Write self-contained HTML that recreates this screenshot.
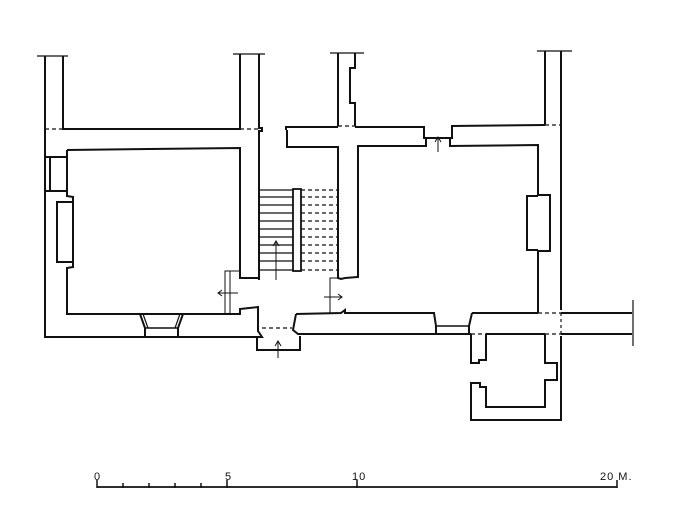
<!DOCTYPE html>
<html><head><style>
html,body{margin:0;padding:0;background:#fff;}
svg{display:block}
text{font-family:"Liberation Sans",sans-serif;font-size:11px;fill:#111;letter-spacing:1px}
</style></head><body>
<svg width="683" height="512" viewBox="0 0 683 512" xmlns="http://www.w3.org/2000/svg">
<g fill="none" stroke="#111" stroke-width="2" stroke-linejoin="miter">
<!-- left building -->
<line x1="37" y1="56" x2="68" y2="56" stroke-width="1.2"/>
<line x1="233" y1="54" x2="265" y2="54" stroke-width="1.2"/>
<polyline points="63,56 63,129 240,129 240,54"/>
<polyline points="259,54 259,128 262,128 262,131 259,131 259,280"/>
<line x1="45" y1="129" x2="63" y2="129" stroke-dasharray="4,3" stroke-width="1.2"/>
<line x1="240" y1="129" x2="259" y2="129" stroke-dasharray="4,3" stroke-width="1.2"/>
<polyline points="45,56 45,337 145,337"/>
<polyline points="145,337 178,337"/>
<polyline points="178,337 262,337 258,331 258,307 240,309 240,314 183,314"/>
<polyline points="67,150 240,148 240,278 259,278"/>
<!-- window top-left -->
<polyline points="45,157 67,157"/>
<polyline points="50,157 50,191"/>
<polyline points="45,191 67,191"/>
<polyline points="67,150 67,196 73,197 73,267 67,268 67,314 140,314 145,328 145,337"/>
<polyline points="73,202 57,202 57,262 73,262"/>
<polyline points="140,314 183,314 178,328 178,337"/>
<line x1="145" y1="328" x2="178" y2="328" stroke-width="1.5"/>
<line x1="143" y1="314" x2="148" y2="328" stroke-width="1.2"/>
<line x1="180" y1="314" x2="175" y2="328" stroke-width="1.2"/>
<line x1="262" y1="328" x2="292" y2="328" stroke-dasharray="4,3" stroke-width="1.2"/>
<polyline points="257,337 257,350 300,350 300,336"/>
<!-- stairs -->
<rect x="293" y="189" width="8" height="82" stroke-width="1.8"/>
<g stroke-width="1.2">
<line x1="259" y1="190" x2="293" y2="190"/><line x1="259" y1="197" x2="293" y2="197"/>
<line x1="259" y1="205" x2="293" y2="205"/><line x1="259" y1="213" x2="293" y2="213"/>
<line x1="259" y1="221" x2="293" y2="221"/><line x1="259" y1="229" x2="293" y2="229"/>
<line x1="259" y1="237" x2="293" y2="237"/><line x1="259" y1="245" x2="293" y2="245"/>
<line x1="259" y1="253" x2="293" y2="253"/><line x1="259" y1="261" x2="293" y2="261"/>
<line x1="259" y1="270" x2="293" y2="270"/>
</g>
<g stroke-width="1.2" stroke-dasharray="4,3">
<line x1="301" y1="190" x2="338" y2="190"/><line x1="301" y1="197" x2="338" y2="197"/>
<line x1="301" y1="205" x2="338" y2="205"/><line x1="301" y1="213" x2="338" y2="213"/>
<line x1="301" y1="221" x2="338" y2="221"/><line x1="301" y1="229" x2="338" y2="229"/>
<line x1="301" y1="237" x2="338" y2="237"/><line x1="301" y1="245" x2="338" y2="245"/>
<line x1="301" y1="253" x2="338" y2="253"/><line x1="301" y1="261" x2="338" y2="261"/>
<line x1="301" y1="270" x2="338" y2="270"/>
</g>
<g stroke-width="1">
<line x1="276" y1="280" x2="276" y2="242"/><polyline points="273,246 276,241 279,246"/>
<line x1="278" y1="358" x2="278" y2="342"/><polyline points="275,346 278,341 281,346"/>
<polyline points="225,314 225,271 240,271"/><polyline points="230,314 230,271"/>
<line x1="218" y1="293" x2="238" y2="293"/><polyline points="222,290 218,293 222,296"/>
<polyline points="330,314 330,278 338,278"/>
<line x1="324" y1="297" x2="342" y2="297"/><polyline points="338,294 342,297 338,300"/>
<line x1="438" y1="152" x2="438" y2="138"/><polyline points="435,142 438,137 441,142"/>
</g>
<!-- right building -->
<line x1="330" y1="53" x2="364" y2="53" stroke-width="1.2"/>
<polyline points="338,53 338,126"/>
<polyline points="355,53 355,68 350,68 350,103 355,103 355,126"/>
<line x1="338" y1="126" x2="355" y2="126" stroke-dasharray="4,3" stroke-width="1.2"/>
<polyline points="286,130 286,127 338,127"/>
<polyline points="355,127 424,127 424,138 452,138 452,126 545,125"/>
<polyline points="287,130 287,147 338,147 338,278 341,279 345,278 358,277 358,146 426,146 426,138"/>
<polyline points="450,138 450,146 538,145 538,195 550,195 550,251 538,251 538,313"/>
<polyline points="538,196 527,196 527,250 538,250"/>
<polyline points="296,314 341,313 345,310 345,313 434,313 436,326 436,334"/>
<polyline points="296,314 293,330 298,334 471,334"/>
<line x1="436" y1="326" x2="469" y2="326" stroke-width="1.5"/>
<polyline points="472,313 469,326 469,334"/>
<polyline points="472,313 538,313"/>
<line x1="538" y1="313" x2="561" y2="313" stroke-dasharray="4,3" stroke-width="1.2"/>
<line x1="471" y1="334" x2="486" y2="334" stroke-dasharray="4,3" stroke-width="1.2"/>
<line x1="486" y1="334" x2="545" y2="334"/>
<line x1="545" y1="334" x2="561" y2="334" stroke-dasharray="4,3" stroke-width="1.2"/>
<line x1="537" y1="51" x2="572" y2="51" stroke-width="1.2"/>
<polyline points="545,51 545,125"/>
<line x1="545" y1="125" x2="561" y2="125" stroke-dasharray="4,3" stroke-width="1.2"/>
<polyline points="561,51 561,310"/>
<line x1="561" y1="313" x2="561" y2="334" stroke-dasharray="3,3" stroke-width="1.2"/>
<polyline points="561,336 561,420 471,420 471,383 480,383 480,387 486,387 486,407 545,407 545,380 557,380 557,363 545,363 545,334"/>
<polyline points="471,334 471,363 479,363 479,360 486,360 486,334"/>
<line x1="561" y1="313" x2="632" y2="313"/>
<line x1="561" y1="334" x2="632" y2="334"/>
<line x1="633" y1="300" x2="633" y2="346" stroke-width="1.2"/>
<!-- scale bar -->
<line x1="97" y1="487" x2="617" y2="487" stroke-width="1.8"/>
<g stroke-width="1.5">
<line x1="97" y1="480" x2="97" y2="488"/><line x1="123" y1="483" x2="123" y2="488"/>
<line x1="149" y1="483" x2="149" y2="488"/><line x1="175" y1="483" x2="175" y2="488"/>
<line x1="201" y1="483" x2="201" y2="488"/><line x1="227" y1="480" x2="227" y2="488"/>
<line x1="357" y1="480" x2="357" y2="488"/><line x1="617" y1="480" x2="617" y2="488"/>
</g>
</g>
<text x="94" y="480">0</text>
<text x="225" y="480">5</text>
<text x="352" y="480">10</text>
<text x="600" y="480">20 M.</text>
</svg>
</body></html>
